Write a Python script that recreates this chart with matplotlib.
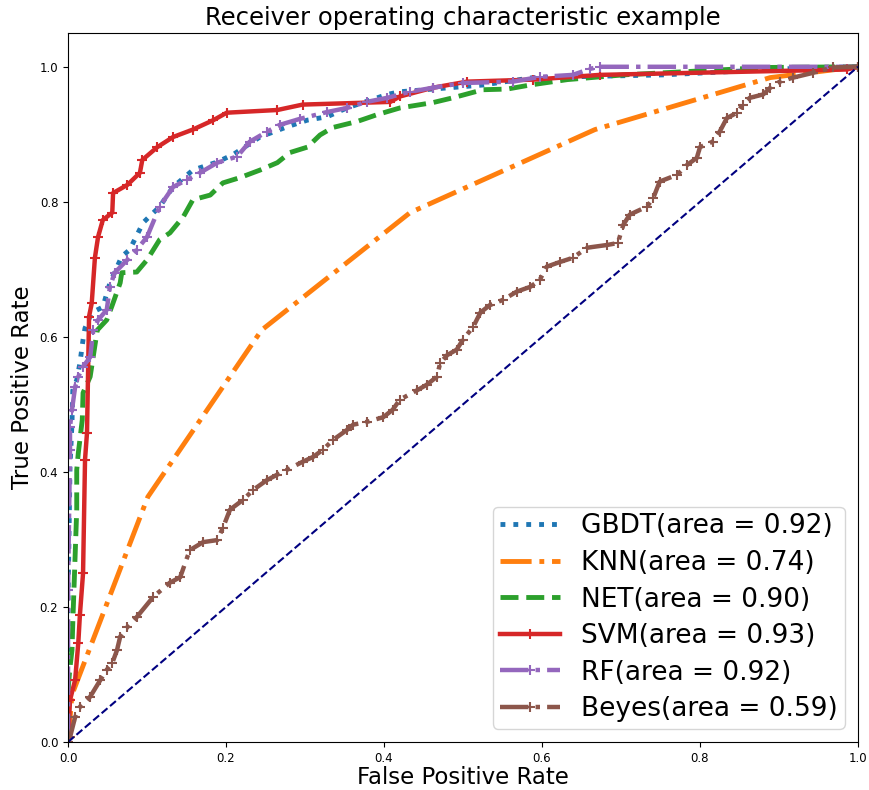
import matplotlib
matplotlib.use("Agg")
import matplotlib.pyplot as plt

# ROC points (fpr, tpr)
GBDT_FPR = [0.0, 0.0, 0.0025, 0.005, 0.006, 0.011, 0.015, 0.019, 0.0215, 0.030, 0.044, 0.053, 0.068, 0.078,
            0.095, 0.116, 0.133, 0.158, 0.189, 0.209, 0.243, 0.277, 0.303, 0.328, 0.353, 0.404, 0.420, 0.525,
            0.589, 0.753, 0.927, 1.0]
GBDT_TPR = [0.0, 0.21, 0.407, 0.473, 0.521, 0.536, 0.561, 0.596, 0.613, 0.636, 0.644, 0.680, 0.719, 0.729,
            0.769, 0.793, 0.822, 0.847, 0.859, 0.870, 0.896, 0.911, 0.921, 0.926, 0.939, 0.959, 0.963, 0.973,
            0.984, 0.988, 0.998, 1.0]

KNN_FPR = [0.0, 0.005, 0.101, 0.245, 0.433, 0.667, 0.889, 1.0]
KNN_TPR = [0.0, 0.07, 0.363, 0.61, 0.784, 0.907, 0.984, 1.0]

NET_FPR = [0.0, 0.0, 0.0025, 0.005, 0.006, 0.011, 0.011, 0.013, 0.018, 0.019, 0.028, 0.037, 0.049, 0.056,
           0.066, 0.068, 0.087, 0.100, 0.116, 0.129, 0.146, 0.158, 0.180, 0.196, 0.218, 0.243, 0.265, 0.281,
           0.303, 0.319, 0.335, 0.366, 0.391, 0.420, 0.462, 0.487, 0.525, 0.556, 0.585, 0.632, 0.703, 0.885, 1.0]
NET_TPR = [0.0, 0.077, 0.111, 0.136, 0.176, 0.344, 0.403, 0.428, 0.477, 0.517, 0.541, 0.610, 0.625, 0.647,
           0.680, 0.695, 0.696, 0.714, 0.744, 0.754, 0.778, 0.803, 0.810, 0.828, 0.836, 0.847, 0.858, 0.873,
           0.881, 0.899, 0.910, 0.919, 0.929, 0.939, 0.947, 0.954, 0.966, 0.967, 0.973, 0.981, 0.988, 0.999, 1.0]

SVM_FPR = [0.0, 0.0025, 0.009, 0.013, 0.015, 0.019, 0.0215, 0.024, 0.0266, 0.030, 0.034, 0.038, 0.044, 0.056,
           0.057, 0.075, 0.091, 0.094, 0.113, 0.133, 0.158, 0.184, 0.201, 0.265, 0.297, 0.408, 0.420, 0.462,
           0.505, 0.589, 0.673, 0.986, 1.0]
SVM_TPR = [0.0, 0.062, 0.092, 0.147, 0.188, 0.250, 0.418, 0.458, 0.630, 0.650, 0.717, 0.748, 0.773, 0.784,
           0.813, 0.825, 0.843, 0.862, 0.881, 0.896, 0.907, 0.921, 0.932, 0.936, 0.944, 0.948, 0.956, 0.969,
           0.978, 0.981, 0.988, 0.996, 1.0]

RF_FPR = [0.0, 0.0, 0.0025, 0.0025, 0.005, 0.009, 0.013, 0.019, 0.028, 0.032, 0.038, 0.049, 0.053, 0.059,
          0.075, 0.087, 0.100, 0.116, 0.133, 0.151, 0.167, 0.189, 0.214, 0.230, 0.252, 0.268, 0.294, 0.328,
          0.353, 0.378, 0.404, 0.433, 0.462, 0.500, 0.563, 0.597, 0.639, 0.661, 0.673, 1.0]
RF_TPR = [0.0, 0.225, 0.433, 0.467, 0.492, 0.526, 0.541, 0.556, 0.570, 0.610, 0.625, 0.640, 0.674, 0.695,
          0.714, 0.729, 0.748, 0.793, 0.822, 0.833, 0.843, 0.858, 0.867, 0.889, 0.904, 0.914, 0.923, 0.933,
          0.939, 0.948, 0.954, 0.963, 0.969, 0.976, 0.978, 0.985, 0.988, 0.997, 1.0, 1.0]

BEYES_FPR = [0.0, 0.0025, 0.009, 0.015, 0.028, 0.041, 0.049, 0.056, 0.062, 0.066, 0.075, 0.087, 0.108, 0.129,
             0.142, 0.154, 0.171, 0.189, 0.196, 0.205, 0.222, 0.234, 0.252, 0.265, 0.277, 0.297, 0.310, 0.323,
             0.335, 0.353, 0.361, 0.378, 0.399, 0.411, 0.420, 0.442, 0.454, 0.467, 0.471, 0.480, 0.492, 0.500,
             0.513, 0.522, 0.534, 0.551, 0.568, 0.585, 0.597, 0.606, 0.623, 0.639, 0.657, 0.682, 0.696, 0.703,
             0.711, 0.733, 0.741, 0.749, 0.771, 0.784, 0.796, 0.800, 0.816, 0.825, 0.834, 0.847, 0.854, 0.863,
             0.880, 0.889, 0.901, 0.918, 0.943, 0.968, 1.0]
BEYES_TPR = [0.0, 0.007, 0.037, 0.052, 0.067, 0.092, 0.107, 0.117, 0.136, 0.156, 0.170, 0.185, 0.215, 0.236,
             0.244, 0.284, 0.296, 0.299, 0.317, 0.344, 0.359, 0.373, 0.388, 0.396, 0.403, 0.415, 0.422, 0.433,
             0.447, 0.462, 0.470, 0.474, 0.481, 0.492, 0.507, 0.521, 0.529, 0.541, 0.561, 0.573, 0.581, 0.596,
             0.615, 0.636, 0.647, 0.655, 0.667, 0.674, 0.684, 0.704, 0.711, 0.717, 0.732, 0.736, 0.739, 0.766,
             0.781, 0.793, 0.806, 0.830, 0.840, 0.855, 0.865, 0.881, 0.889, 0.904, 0.924, 0.932, 0.944, 0.954,
             0.959, 0.969, 0.978, 0.984, 0.991, 0.999, 1.0]

LABELS = ["GBDT", "KNN", "NET", "SVM", "RF", "Beyes"]
AREAS = [0.92, 0.74, 0.90, 0.93, 0.92, 0.59]


def main():
    fig = plt.figure(figsize=(8.69, 7.90), dpi=100)
    ax = fig.add_axes([0.0783, 0.0608, 0.909, 0.8974])

    marked = dict(lw=3.2, marker="+", ms=7, mew=1.5)
    curves = [
        (GBDT_FPR, GBDT_TPR, dict(color="tab:blue", linestyle=":", lw=3.5)),
        (KNN_FPR, KNN_TPR, dict(color="tab:orange", linestyle="-.", lw=3.5)),
        (NET_FPR, NET_TPR, dict(color="tab:green", linestyle="--", lw=3.5)),
        (SVM_FPR, SVM_TPR, dict(color="tab:red", linestyle="-", **marked)),
        (RF_FPR, RF_TPR, dict(color="tab:purple", linestyle="-.", **marked)),
        (BEYES_FPR, BEYES_TPR, dict(color="tab:brown", linestyle="-.", **marked)),
    ]
    for (fpr, tpr, style), name, area in zip(curves, LABELS, AREAS):
        ax.plot(fpr, tpr, label=f"{name}(area = {area:.2f})", **style)

    ax.plot([0, 1], [0, 1], color="navy", lw=1.5, linestyle="--")

    ax.set_xlim(0.0, 1.0)
    ax.set_ylim(0.0, 1.05)
    ax.tick_params(labelsize=8.5)
    ax.set_xlabel("False Positive Rate", fontsize=16.5, labelpad=1)
    ax.set_ylabel("True Positive Rate", fontsize=16.5)
    ax.set_title("Receiver operating characteristic example", fontsize=17.5)
    ax.legend(loc="lower right", fontsize=19, handlelength=2.3, handletextpad=0.8,
              labelspacing=0.4, borderpad=0.25)

    fig.savefig("out.png", dpi=100)


if __name__ == "__main__":
    main()
